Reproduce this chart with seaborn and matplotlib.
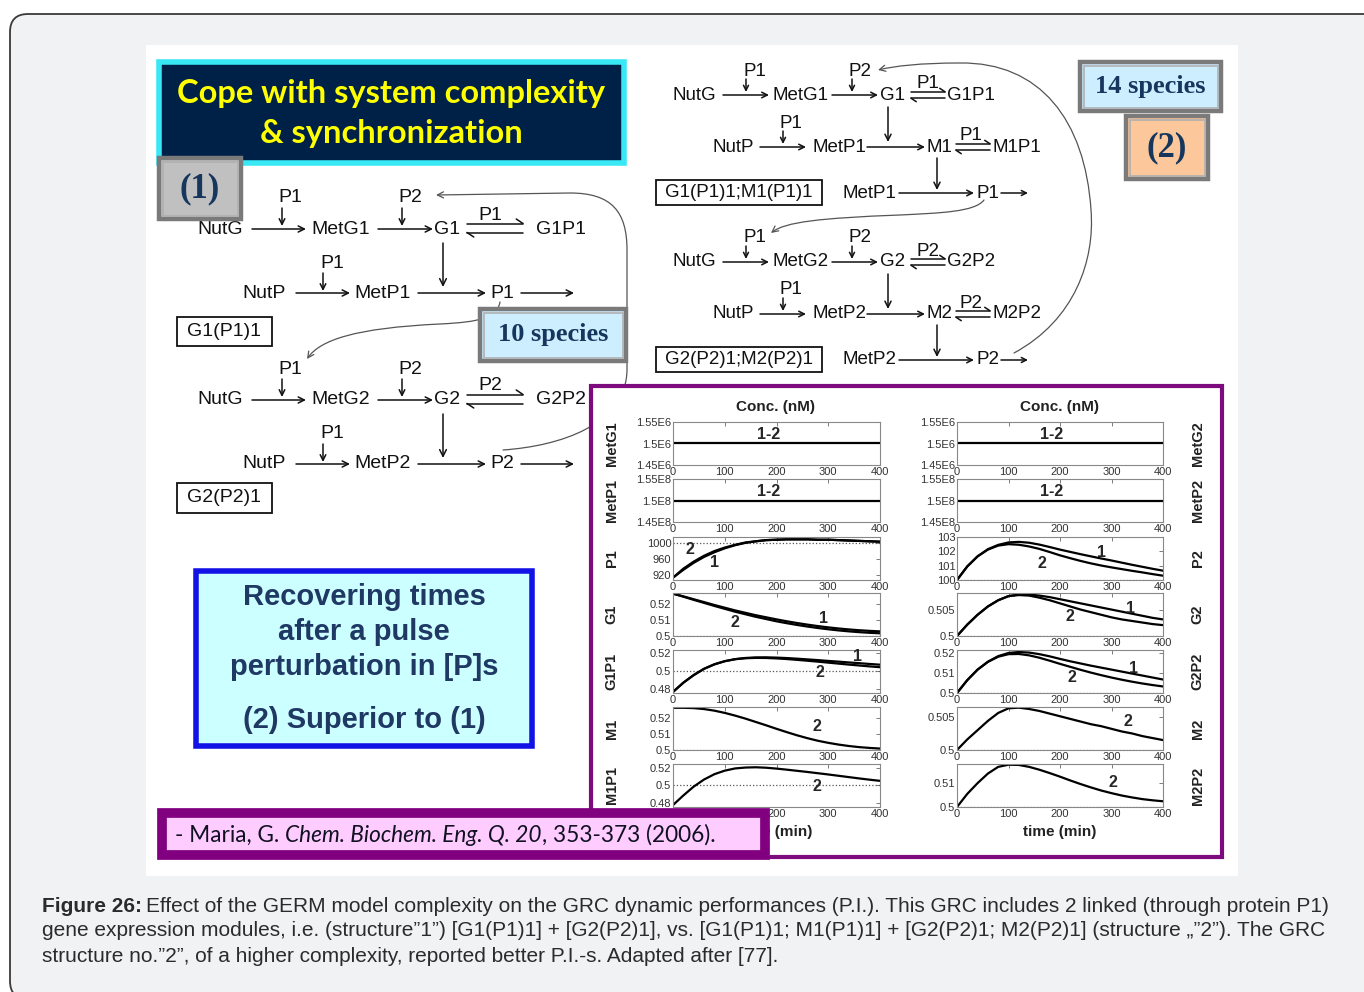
import matplotlib
matplotlib.use("Agg")
import matplotlib.pyplot as plt
import seaborn as sns
from matplotlib.patches import Rectangle, FancyBboxPatch, FancyArrowPatch
from matplotlib.path import Path

# --- CONFIGURATION ---
W, H = 1364, 992
sns.set_theme(style="white")
plt.rcParams['font.family'] = ['Liberation Sans', 'DejaVu Sans']

# --- DATA ---
time_min = [0, 20, 40, 60, 80, 100, 120, 140, 160, 180, 200,
            220, 240, 260, 280, 300, 320, 340, 360, 380, 400]
flat_time = [0, 400]

metg1_conc = [1.5e6, 1.5e6]
metp1_conc = [1.5e8, 1.5e8]
metg2_conc = [1.5e6, 1.5e6]
metp2_conc = [1.5e8, 1.5e8]

p1_s1 = [912, 932, 950, 965, 977, 987, 995, 1001, 1005, 1008, 1009,
         1010, 1010, 1010, 1009, 1009, 1008, 1007, 1006, 1005, 1004]
p1_s2 = [912, 935, 953, 968, 980, 989, 996, 1002, 1005, 1008, 1009,
         1010, 1010, 1010, 1009, 1009, 1008, 1007, 1006, 1005, 1004]

g1_s1 = [0.5265, 0.5248, 0.5230, 0.5212, 0.5194, 0.5177, 0.5160, 0.5145, 0.5130, 0.5117, 0.5104,
         0.5092, 0.5081, 0.5071, 0.5062, 0.5054, 0.5047, 0.5041, 0.5036, 0.5032, 0.5029]
g1_s2 = [0.5265, 0.5246, 0.5226, 0.5207, 0.5188, 0.5170, 0.5152, 0.5136, 0.5120, 0.5106, 0.5092,
         0.5080, 0.5069, 0.5059, 0.5050, 0.5042, 0.5035, 0.5029, 0.5024, 0.5020, 0.5017]

g1p1_s1 = [0.4767, 0.4870, 0.4955, 0.5025, 0.5075, 0.5110, 0.5133, 0.5146, 0.5152, 0.5153, 0.5150,
           0.5145, 0.5138, 0.5130, 0.5122, 0.5113, 0.5105, 0.5096, 0.5088, 0.5079, 0.5071]
g1p1_s2 = [0.4767, 0.4870, 0.4955, 0.5025, 0.5075, 0.5110, 0.5132, 0.5143, 0.5147, 0.5146, 0.5141,
           0.5134, 0.5125, 0.5115, 0.5105, 0.5094, 0.5083, 0.5072, 0.5062, 0.5052, 0.5043]

m1_s2 = [0.5265, 0.5265, 0.5263, 0.5257, 0.5247, 0.5233, 0.5216, 0.5197, 0.5176, 0.5155, 0.5133,
         0.5112, 0.5092, 0.5074, 0.5058, 0.5045, 0.5034, 0.5025, 0.5018, 0.5013, 0.5009]
m1p1_s2 = [0.4777, 0.4885, 0.4985, 0.5065, 0.5125, 0.5165, 0.5190, 0.5200, 0.5203, 0.5198, 0.5188,
           0.5176, 0.5163, 0.5150, 0.5136, 0.5122, 0.5107, 0.5092, 0.5077, 0.5063, 0.5050]

p2_s1 = [100.0, 100.95, 101.65, 102.15, 102.45, 102.62, 102.66, 102.60, 102.47, 102.30, 102.12,
         101.96, 101.80, 101.65, 101.50, 101.36, 101.21, 101.06, 100.92, 100.78, 100.65]
p2_s2 = [100.0, 100.95, 101.65, 102.12, 102.40, 102.50, 102.46, 102.34, 102.17, 101.95, 101.72,
         101.52, 101.33, 101.16, 101.01, 100.88, 100.76, 100.64, 100.53, 100.41, 100.30]

g2_s1 = [0.5000, 0.5022, 0.5041, 0.5057, 0.5069, 0.5077, 0.5080, 0.5080, 0.5078, 0.5075, 0.5071,
         0.5067, 0.5063, 0.5059, 0.5055, 0.5051, 0.5047, 0.5043, 0.5039, 0.5035, 0.5032]
g2_s2 = [0.5000, 0.5022, 0.5041, 0.5057, 0.5069, 0.5077, 0.5079, 0.5078, 0.5074, 0.5069, 0.5063,
         0.5057, 0.5051, 0.5046, 0.5041, 0.5036, 0.5032, 0.5029, 0.5026, 0.5023, 0.5021]

g2p2_s1 = [0.5000, 0.5065, 0.5118, 0.5158, 0.5186, 0.5202, 0.5207, 0.5204, 0.5196, 0.5185, 0.5172,
           0.5160, 0.5149, 0.5138, 0.5128, 0.5118, 0.5108, 0.5098, 0.5088, 0.5078, 0.5068]
g2p2_s2 = [0.5000, 0.5065, 0.5118, 0.5157, 0.5183, 0.5196, 0.5197, 0.5190, 0.5178, 0.5163, 0.5147,
           0.5132, 0.5117, 0.5103, 0.5090, 0.5078, 0.5067, 0.5057, 0.5048, 0.5040, 0.5033]

m2_s2 = [0.5000, 0.5016, 0.5030, 0.5044, 0.5056, 0.5063, 0.5064, 0.5062, 0.5059, 0.5055, 0.5051,
         0.5047, 0.5043, 0.5039, 0.5036, 0.5032, 0.5028, 0.5025, 0.5021, 0.5018, 0.5015]
m2p2_s2 = [0.5000, 0.5055, 0.5100, 0.5140, 0.5168, 0.5177, 0.5176, 0.5168, 0.5156, 0.5142, 0.5127,
           0.5111, 0.5096, 0.5082, 0.5069, 0.5058, 0.5048, 0.5040, 0.5033, 0.5028, 0.5024]

x_ticks = [0, 100, 200, 300, 400]

caption_lines = [
    "Effect of the GERM model complexity on the GRC dynamic performances (P.I.). This GRC includes 2 linked (through protein P1)",
    "gene expression modules, i.e. (structure\u201d1\u201d) [G1(P1)1] + [G2(P2)1], vs. [G1(P1)1; M1(P1)1] + [G2(P2)1; M2(P2)1] (structure \u201e\u201d2\u201d). The GRC",
    "structure no.\u201d2\u201d, of a higher complexity, reported better P.I.-s. Adapted after [77].",
]

# --- FIGURE + PIXEL OVERLAYS ---
fig = plt.figure(figsize=(W / 100, H / 100), dpi=100)
fig.patch.set_facecolor("white")
bg = fig.add_axes([0, 0, 1, 1], zorder=0)
bg.set_xlim(0, W); bg.set_ylim(H, 0); bg.axis("off")
top = fig.add_axes([0, 0, 1, 1], zorder=10)
top.set_xlim(0, W); top.set_ylim(H, 0); top.axis("off")


def px_axes(x0, y0, x1, y1):
    return fig.add_axes([x0 / W, 1 - y1 / H, (x1 - x0) / W, (y1 - y0) / H], zorder=2)


# card + white picture area
bg.add_patch(FancyBboxPatch((10, 14), 1420, 985, boxstyle="round,pad=0,rounding_size=18",
                            fc="#f1f2f4", ec="#3a3a3a", lw=1.3, zorder=0))
bg.add_patch(Rectangle((146, 45), 1092, 831, fc="white", ec="none", zorder=0.5))

# title box
bg.add_patch(Rectangle((159, 62), 465, 101, fc="#002147", ec="#38e8f4", lw=4, zorder=2))
for yy, s in [(93, "Cope with system complexity"), (134, "& synchronization")]:
    bg.text(391, yy, s, color="#ffff00", fontsize=23.5, fontweight="bold", family="Lato",
            ha="center", va="center", zorder=3)


def grey_box(x0, y0, x1, y1, fc, label, size, zo=4):
    bg.add_patch(Rectangle((x0, y0), x1 - x0, y1 - y0, fc=fc, ec="#7a7a7a", lw=3.2, zorder=zo))
    bg.add_patch(Rectangle((x0 + 3.5, y0 + 3.5), x1 - x0 - 7, y1 - y0 - 7, fc="none",
                           ec="#b0b0b0", lw=1.2, zorder=zo))
    bg.text((x0 + x1) / 2, (y0 + y1) / 2, label, fontsize=size, fontweight="bold",
            family=["Liberation Serif", "DejaVu Serif"], color="#17365d",
            ha="center", va="center", zorder=zo + 0.1)


grey_box(159, 158, 241, 219, "#c0c0c0", "(1)", 25, zo=4)
grey_box(480, 309, 626, 361, "#cdeeff", "10 species", 19, zo=4)
grey_box(1080, 62, 1221, 111, "#cdeeff", "14 species", 19, zo=4)
grey_box(1126, 116, 1208, 179, "#fcc89b", "(2)", 25, zo=4)


# --- REACTION DIAGRAMS ---
def dtxt(x, y, s, size, ha="left"):
    bg.text(x, y, s, fontsize=size, ha=ha, va="center", color="#111111", zorder=3)


def arrow(x0, y0, x1, y1, ms=11, lw=1.1):
    bg.annotate("", xy=(x1, y1), xytext=(x0, y0), zorder=3,
                arrowprops=dict(arrowstyle="->", lw=lw, color="#111111",
                                shrinkA=0, shrinkB=0, mutation_scale=ms))


def equil(x0, x1, y, gap, hook=4.5, lw=1.1):
    bg.plot([x0, x1], [y - gap, y - gap], color="#111111", lw=lw, zorder=3)
    bg.plot([x1 - hook * 1.5, x1], [y - gap - hook, y - gap], color="#111111", lw=lw, zorder=3)
    bg.plot([x0, x1], [y + gap, y + gap], color="#111111", lw=lw, zorder=3)
    bg.plot([x0, x0 + hook * 1.5], [y + gap, y + gap + hook], color="#111111", lw=lw, zorder=3)


def box_txt(x0, y0, x1, y1, s, size):
    bg.add_patch(Rectangle((x0, y0), x1 - x0, y1 - y0, fc="white", ec="#111111", lw=1.3, zorder=3))
    dtxt((x0 + x1) / 2, (y0 + y1) / 2, s, size, ha="center")


def module_one(dy, metg, g, gp, metp, p, reg2, regeq):
    fs = 14
    ya, yb = 229 + dy, 293 + dy
    dtxt(197, ya, "NutG", fs); arrow(252, ya, 306, ya)
    dtxt(311, ya, metg, fs); arrow(378, ya, 433, ya)
    dtxt(434, ya, g, fs); equil(467, 523, ya - 1, 4.5)
    dtxt(536, ya, gp, fs)
    dtxt(290, ya - 31, "P1", fs, "center"); arrow(282, ya - 21, 282, ya - 3, ms=10)
    dtxt(410, ya - 31, reg2, fs, "center"); arrow(402, ya - 21, 402, ya - 3, ms=10)
    dtxt(490, ya - 14, regeq, fs, "center")
    dtxt(242, yb, "NutP", fs); arrow(296, yb, 350, yb)
    dtxt(354, yb, metp, fs); arrow(418, yb, 486, yb)
    dtxt(490, yb, p, fs); arrow(521, yb, 574, yb)
    dtxt(332, yb - 30, "P1", fs, "center"); arrow(323, yb - 20, 323, yb - 2, ms=10)
    arrow(443, ya + 14, 443, yb - 6, ms=12)


module_one(0, "MetG1", "G1", "G1P1", "MetP1", "P1", "P2", "P1")
module_one(171, "MetG2", "G2", "G2P2", "MetP2", "P2", "P2", "P2")
box_txt(177, 317, 272, 346, "G1(P1)1", 14)
box_txt(177, 483, 272, 513, "G2(P2)1", 14)


def module_two(dy, metg, g, gp, metp, m, mp, p, reg2, regeq, boxlabel):
    fs = 13.5
    ya, yb, yc = 95 + dy, 147 + dy, 193 + dy
    dtxt(672, ya, "NutG", fs); arrow(723, ya, 769, ya, ms=10)
    dtxt(773, ya, metg, fs); arrow(832, ya, 878, ya, ms=10)
    dtxt(880, ya, g, fs); equil(911, 945, ya, 3.2, hook=3.5)
    dtxt(947, ya, gp, fs)
    dtxt(755, ya - 24, "P1", fs, "center"); arrow(746, ya - 16, 746, ya - 3, ms=9)
    dtxt(860, ya - 24, reg2, fs, "center"); arrow(852, ya - 16, 852, ya - 3, ms=9)
    dtxt(928, ya - 11, regeq, fs, "center")
    dtxt(712, yb, "NutP", fs); arrow(760, yb, 806, yb, ms=10)
    dtxt(812, yb, metp, fs); arrow(867, yb, 925, yb, ms=10)
    dtxt(926, yb, m, fs); equil(956, 990, yb, 3.2, hook=3.5)
    dtxt(992, yb, mp, fs)
    dtxt(791, yb - 24, "P1", fs, "center"); arrow(783, yb - 16, 783, yb - 3, ms=9)
    dtxt(971, yb - 11, regeq, fs, "center")
    arrow(888, ya + 12, 888, yb - 5, ms=11)
    box_txt(656, yc - 13, 822, yc + 12, boxlabel, fs)
    dtxt(842, yc, metp, fs); arrow(899, yc, 974, yc, ms=10)
    dtxt(976, yc, p, fs); arrow(1001, yc, 1028, yc, ms=9)
    arrow(937, yb + 11, 937, yc - 3, ms=11)


module_two(0, "MetG1", "G1", "G1P1", "MetP1", "M1", "M1P1", "P1", "P2", "P1", "G1(P1)1;M1(P1)1")
module_two(167, "MetG2", "G2", "G2P2", "MetP2", "M2", "M2P2", "P2", "P2", "P2", "G2(P2)1;M2(P2)1")


def link(verts, codes, zo=3):
    bg.add_patch(FancyArrowPatch(path=Path(verts, codes), arrowstyle="->", mutation_scale=11,
                                 color="#555555", lw=0.9, zorder=zo))


C4, L2, M0 = Path.CURVE4, Path.LINETO, Path.MOVETO
link([(500, 302), (497, 318), (480, 322), (440, 324), (355, 328), (320, 340), (307, 359)],
     [M0, C4, C4, C4, C4, C4, C4])
link([(503, 450), (560, 446), (626, 425), (627, 370), (627, 250), (627, 212), (612, 193),
      (570, 193), (436, 195)],
     [M0, C4, C4, C4, L2, C4, C4, C4, L2])
link([(984, 200), (975, 212), (940, 213), (900, 215), (820, 218), (785, 222), (771, 233)],
     [M0, C4, C4, C4, C4, C4, C4])
link([(1014, 353), (1075, 320), (1095, 260), (1091, 210), (1085, 120), (1040, 62),
      (960, 63), (920, 63), (895, 66), (878, 70)],
     [M0, C4, C4, C4, C4, C4, C4, C4, C4, C4])

# recovering-times box
bg.add_patch(Rectangle((196, 571), 336, 175, fc="#ccffff", ec="#1212e6", lw=4, zorder=3))
for yy, s in [(597, "Recovering times"), (632, "after a pulse"),
              (667, "perturbation in [P]s"), (720, "(2) Superior to (1)")]:
    bg.text(364, yy, s, fontsize=21, fontweight="bold", color="#1f3864",
            ha="center", va="center", zorder=4)

# purple results panel
bg.add_patch(Rectangle((591, 386), 631, 471, fc="white", ec="#7d0b7d", lw=3, zorder=5))
for xx in (776, 1060):
    bg.text(xx, 407, "Conc. (nM)", fontsize=11, fontweight="bold", ha="center", va="center",
            color="#222222", zorder=6)
    bg.text(xx, 832, "time (min)", fontsize=11, fontweight="bold", ha="center", va="center",
            color="#222222", zorder=6)

# --- TIME-COURSE PANELS ---
row_tops = [422, 479, 537, 593, 650, 707, 764]

left_col = [
    ("MetG1", flat_time, [metg1_conc], (1.45e6, 1.55e6), [1.45e6, 1.5e6, 1.55e6],
     ["1.45E6", "1.5E6", "1.55E6"], None, [("1-2", 185, 1.52e6)]),
    ("MetP1", flat_time, [metp1_conc], (1.45e8, 1.55e8), [1.45e8, 1.5e8, 1.55e8],
     ["1.45E8", "1.5E8", "1.55E8"], None, [("1-2", 185, 1.522e8)]),
    ("P1", time_min, [p1_s1, p1_s2], (906, 1016), [920, 960, 1000],
     ["920", "960", "1000"], 1000, [("2", 33, 985), ("1", 81, 952)]),
    ("G1", time_min, [g1_s1, g1_s2], (0.5, 0.5269), [0.5, 0.51, 0.52],
     ["0.5", "0.51", "0.52"], 0.5, [("1", 290, 0.5107), ("2", 120, 0.5083)]),
    ("G1P1", time_min, [g1p1_s1, g1p1_s2], (0.4755, 0.5235), [0.48, 0.5, 0.52],
     ["0.48", "0.5", "0.52"], 0.5, [("1", 357, 0.516), ("2", 284, 0.4985)]),
    ("M1", time_min, [m1_s2], (0.5, 0.527), [0.5, 0.51, 0.52],
     ["0.5", "0.51", "0.52"], 0.5, [("2", 278, 0.5145)]),
    ("M1P1", time_min, [m1p1_s2], (0.4755, 0.524), [0.48, 0.5, 0.52],
     ["0.48", "0.5", "0.52"], 0.5, [("2", 278, 0.4985)]),
]
right_col = [
    ("MetG2", flat_time, [metg2_conc], (1.45e6, 1.55e6), [1.45e6, 1.5e6, 1.55e6],
     ["1.45E6", "1.5E6", "1.55E6"], None, [("1-2", 184, 1.52e6)]),
    ("MetP2", flat_time, [metp2_conc], (1.45e8, 1.55e8), [1.45e8, 1.5e8, 1.55e8],
     ["1.45E8", "1.5E8", "1.55E8"], None, [("1-2", 184, 1.522e8)]),
    ("P2", time_min, [p2_s1, p2_s2], (100, 103), [100, 101, 102, 103],
     ["100", "101", "102", "103"], 100, [("1", 281, 101.9), ("2", 164, 101.17)]),
    ("G2", time_min, [g2_s1, g2_s2], (0.5, 0.5083), [0.5, 0.505],
     ["0.5", "0.505"], 0.5, [("1", 336, 0.5054), ("2", 219, 0.5038)]),
    ("G2P2", time_min, [g2p2_s1, g2p2_s2], (0.5, 0.5217), [0.5, 0.51, 0.52],
     ["0.5", "0.51", "0.52"], 0.5, [("1", 342, 0.5125), ("2", 223, 0.5079)]),
    ("M2", time_min, [m2_s2], (0.5, 0.5065), [0.5, 0.505],
     ["0.5", "0.505"], 0.5, [("2", 331, 0.5043)]),
    ("M2P2", time_min, [m2p2_s2], (0.5, 0.518), [0.5, 0.51],
     ["0.5", "0.51"], 0.5, [("2", 303, 0.5104)]),
]

for (x0, x1, col, side) in [(673, 880, left_col, "left"), (957, 1163, right_col, "right")]:
    for ytop, (name, tt, series, ylim, yt, ytl, ref, notes) in zip(row_tops, col):
        ax = px_axes(x0, ytop, x1, ytop + 43)
        ax.set_facecolor("white")
        if ref is not None:
            ax.axhline(ref, color="#555555", ls=":", lw=0.9)
        for vals in series:
            sns.lineplot(x=tt, y=vals, ax=ax, color="black", lw=1.6, legend=False)
        for s, nx, ny in notes:
            ax.text(nx, ny, s, fontsize=11.5, fontweight="bold", ha="center", va="center")
        ax.set_xlim(0, 400)
        ax.set_ylim(*ylim)
        ax.set_xticks(x_ticks)
        ax.set_xticklabels([str(v) for v in x_ticks])
        ax.set_yticks(yt)
        ax.set_yticklabels(ytl)
        ax.tick_params(direction="in", length=3, width=0.6, top=True, right=True,
                       labelsize=8, labelcolor="#333333", color="#666666", pad=1.2)
        for sp in ax.spines.values():
            sp.set_color("#888888"); sp.set_linewidth(0.8)
        ax.set_xlabel("")
        ax.set_ylabel(name, fontsize=10.5, fontweight="bold", color="#222222")
        if side == "left":
            ax.yaxis.set_label_coords(-0.262, 0.5)
        else:
            ax.yaxis.set_label_position("right")
            ax.yaxis.set_label_coords(1.135, 0.5)

# --- CITATION BOX (above the panels) ---
top.add_patch(Rectangle((162, 813), 603, 42, fc="#ffccff", ec="#800080", lw=7, zorder=1))
renderer = fig.canvas.get_renderer()
cx = 175
for s, style in [("- Maria, G. ", "normal"), ("Chem. Biochem. Eng. Q. 20", "italic"),
                 (", 353-373 (2006).", "normal")]:
    t = top.text(cx, 835, s, fontsize=16.3, family="Lato", style=style, color="#111122",
                 ha="left", va="center", zorder=2)
    cx = t.get_window_extent(renderer).x1

# --- CAPTION ---
cap = bg.text(42, 906, "Figure 26:", fontsize=15, fontweight="bold", color="#2b2b2b",
              ha="left", va="center", zorder=3)
x_after = cap.get_window_extent(renderer).x1
bg.text(x_after + 4, 906, caption_lines[0], fontsize=15, color="#2b2b2b",
        ha="left", va="center", zorder=3)
bg.text(42, 931, caption_lines[1], fontsize=15, color="#2b2b2b", ha="left", va="center", zorder=3)
bg.text(42, 956, caption_lines[2], fontsize=15, color="#2b2b2b", ha="left", va="center", zorder=3)

fig.savefig("out.png", dpi=100)
